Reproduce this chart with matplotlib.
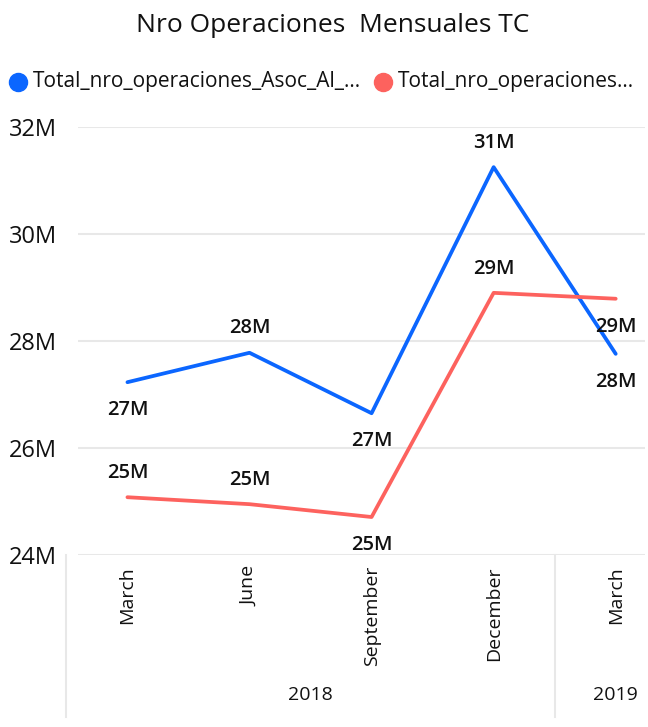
import matplotlib.pyplot as plt
from matplotlib.lines import Line2D
from matplotlib.transforms import blended_transform_factory

plt.rcParams['font.family'] = ['Open Sans', 'DejaVu Sans']

# data (millions)
months = ['March', 'June', 'September', 'December', 'March']
years = ['2018', '2019']
year_spans = [(-0.5, 3.5), (3.5, 4.5)]
blue_vals = [27.23, 27.78, 26.65, 31.25, 27.76]
red_vals = [25.08, 24.95, 24.71, 28.90, 28.79]
series_names = ['Total_nro_operaciones_Asoc_Al_...', 'Total_nro_operaciones...']
yticks = [24, 26, 28, 30, 32]

blue = '#0B66FF'
red = '#FD625E'
txt = '#111111'

W, H = 648, 727
fig = plt.figure(figsize=(W / 100, H / 100), dpi=100)
ax = fig.add_axes([78 / W, 1 - 555 / H, (645 - 78) / W, 428 / H])

x = list(range(len(months)))
ax.plot(x, blue_vals, color=blue, lw=2.7, clip_on=False, solid_capstyle='round', zorder=3)
ax.plot(x, red_vals, color=red, lw=2.7, clip_on=False, solid_capstyle='round', zorder=3)

ax.set_xlim(-0.405, 4.24)
ax.set_ylim(24, 32)
ax.set_yticks(yticks)
ax.set_yticklabels([f'{v}M' for v in yticks], fontsize=17, color=txt)
ax.set_xticks(x)
ax.set_xticklabels(months, rotation=90, va='top', ha='center', fontsize=14, color=txt)
ax.tick_params(axis='y', length=0, pad=15)
ax.tick_params(axis='x', length=0, pad=8)
for s in ax.spines.values():
    s.set_visible(False)
ax.grid(axis='y', color='#E8E8E8', lw=1.5)
ax.set_axisbelow(True)

# data labels (+1 above, -1 below)
blue_pos = [-1, 1, -1, 1, -1]
red_pos = [1, 1, -1, 1, -1]
for vals, pos in [(blue_vals, blue_pos), (red_vals, red_pos)]:
    for i, (v, p) in enumerate(zip(vals, pos)):
        dy = 17.5 if p > 0 else -20
        ax.annotate(f'{round(v)}M', (i, v), xytext=(0, dy), textcoords='offset points',
                    ha='center', va='center', fontsize=14.5, fontweight='semibold',
                    color=txt, annotation_clip=False, zorder=4)

# hierarchical x axis
tr = blended_transform_factory(ax.transData, ax.transAxes)
bottom = (555 - 717) / 428
for xs in [-0.5, 3.5]:
    ax.add_line(Line2D([xs, xs], [0, bottom], transform=tr, color='#E8E8E8', lw=1.5, clip_on=False))
for yr, (a, b) in zip(years, year_spans):
    ax.text((a + b) / 2, (555 - 695) / 428, yr, transform=tr, ha='center', va='center',
            fontsize=14, color=txt)

# title and legend
fig.text(333 / W, 1 - 25 / H, 'Nro Operaciones  Mensuales TC', ha='center', va='center',
         fontsize=19, color=txt)
for cx, tx, col, name in [(18, 33, blue, series_names[0]), (383, 398, red, series_names[1])]:
    fig.add_artist(Line2D([cx / W], [1 - 82 / H], marker='o', markersize=13, color=col,
                          transform=fig.transFigure))
    fig.text(tx / W, 1 - 82 / H, name, ha='left', va='center', fontsize=15, color=txt)

fig.savefig('out.png', dpi=100)
